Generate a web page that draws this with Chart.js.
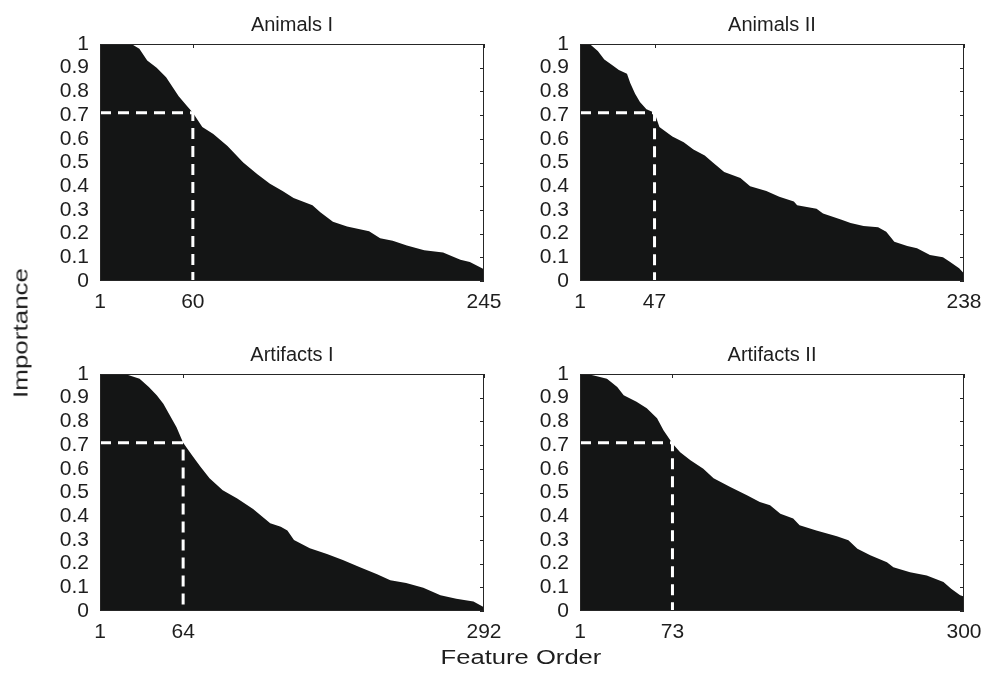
<!DOCTYPE html>
<html>
<head>
<meta charset="utf-8">
<script src="https://cdn.jsdelivr.net/npm/chart.js@4.4.1/dist/chart.umd.min.js"></script>
<style>
  body { margin: 0; background: #fff; width: 984px; height: 683px; position: relative; overflow: hidden;
         font-family: "Liberation Sans", Arial, sans-serif; color: #1e1e1e; }
  .panel { position: absolute; }
  #ylabel { position: absolute; left: 21px; top: 333px; transform: translate(-50%, -50%) rotate(-90deg) scaleX(1.3);
            font-size: 20px; white-space: nowrap; }
  #xlabel { position: absolute; left: 521px; top: 657px; transform: translate(-50%, -50%) scaleX(1.28);
            font-size: 20px; white-space: nowrap; }
</style>
</head>
<body>
<canvas class="panel" id="animals1" width="504" height="335" style="left:0;top:0"></canvas>
<canvas class="panel" id="animals2" width="504" height="335" style="left:480px;top:0"></canvas>
<canvas class="panel" id="artifacts1" width="504" height="335" style="left:0;top:330px"></canvas>
<canvas class="panel" id="artifacts2" width="504" height="335" style="left:480px;top:330px"></canvas>
<div id="ylabel">Importance</div>
<div id="xlabel">Feature Order</div>
<script>
// feature order (x) and importance (y)
var animals1Order = [1, 21, 26, 31, 37, 43, 51, 56, 60, 66, 73, 82, 92, 101, 109, 117, 124, 136, 141, 149, 158, 172, 179, 187, 196, 207, 219, 230, 236, 245];
var animals1Importance = [1, 1, 0.98, 0.93, 0.90, 0.86, 0.78, 0.74, 0.71, 0.65, 0.62, 0.57, 0.50, 0.45, 0.41, 0.38, 0.35, 0.32, 0.29, 0.25, 0.23, 0.21, 0.18, 0.17, 0.15, 0.13, 0.12, 0.09, 0.08, 0.05];

var animals2Order = [1, 7, 12, 16, 21, 25, 30, 32, 35, 38, 42, 47, 50, 58, 65, 71, 78, 83, 90, 100, 106, 116, 124, 133, 135, 147, 151, 162, 168, 176, 185, 190, 195, 203, 209, 217, 225, 229, 235, 238];
var animals2Importance = [1, 1, 0.97, 0.935, 0.91, 0.89, 0.875, 0.835, 0.79, 0.755, 0.725, 0.71, 0.65, 0.61, 0.585, 0.555, 0.53, 0.50, 0.46, 0.435, 0.40, 0.38, 0.355, 0.335, 0.32, 0.305, 0.285, 0.26, 0.245, 0.232, 0.227, 0.208, 0.166, 0.148, 0.138, 0.11, 0.10, 0.082, 0.054, 0.032];

var artifacts1Order = [1, 20, 31, 38, 44, 49, 54, 59, 64, 71, 77, 84, 94, 105, 117, 130, 138, 143, 148, 160, 173, 185, 198, 211, 221, 233, 246, 259, 271, 284, 292];
var artifacts1Importance = [1, 1, 0.98, 0.945, 0.91, 0.875, 0.825, 0.775, 0.71, 0.655, 0.61, 0.56, 0.51, 0.475, 0.43, 0.37, 0.355, 0.34, 0.30, 0.265, 0.24, 0.215, 0.185, 0.155, 0.13, 0.118, 0.098, 0.066, 0.052, 0.04, 0.016];

var artifacts2Order = [1, 5, 11, 22, 30, 35, 45, 53, 61, 66, 73, 79, 87, 97, 105, 118, 131, 141, 149, 157, 167, 172, 185, 201, 210, 217, 227, 240, 245, 258, 271, 284, 290, 297, 300];
var artifacts2Importance = [1, 1, 0.995, 0.98, 0.945, 0.91, 0.883, 0.855, 0.813, 0.763, 0.707, 0.67, 0.636, 0.60, 0.56, 0.523, 0.488, 0.46, 0.446, 0.41, 0.39, 0.362, 0.34, 0.315, 0.298, 0.263, 0.235, 0.206, 0.185, 0.164, 0.15, 0.122, 0.094, 0.066, 0.061];

var titles = ["Animals I", "Animals II", "Artifacts I", "Artifacts II"];
var cutoffs = [60, 47, 64, 73];
var totals = [245, 238, 292, 300];
var threshold = 0.71;

var TEXT = "#1e1e1e";
var FAMILY = "'Liberation Sans', Arial, sans-serif";
var TITLE_FONT = { family: FAMILY, size: 20, weight: "normal" };
var TICK_FONT = { family: FAMILY, size: 21, weight: "normal" };

// matlab style box: frame plus inward ticks on top and right
var boxPlugin = {
  id: "box",
  afterDatasetsDraw: function (chart) {
    var ctx = chart.ctx, a = chart.chartArea;
    ctx.save();
    ctx.strokeStyle = "#262626";
    ctx.lineWidth = 1;
    ctx.strokeRect(a.left + 0.5, a.top + 0.5, a.right - a.left - 1, a.bottom - a.top - 1);
    ctx.beginPath();
    chart.scales.y.ticks.forEach(function (t) {
      var y = Math.round(chart.scales.y.getPixelForValue(t.value)) + 0.5;
      ctx.moveTo(a.right - 4, y);
      ctx.lineTo(a.right, y);
    });
    chart.scales.x.ticks.forEach(function (t) {
      var x = Math.round(chart.scales.x.getPixelForValue(t.value)) + 0.5;
      ctx.moveTo(x, a.top);
      ctx.lineTo(x, a.top + 4);
    });
    ctx.stroke();
    ctx.restore();
  }
};

function makePanel(id, title, order, importance, cutoff, total) {
  var area = order.map(function (x, i) { return { x: x, y: importance[i] }; });
  var guide = [{ x: 1, y: threshold }, { x: cutoff, y: threshold }, { x: cutoff, y: 0 }];

  return new Chart(document.getElementById(id), {
    type: "line",
    data: {
      datasets: [
        { data: guide, borderColor: "#ffffff", borderWidth: 3, borderDash: [11, 7],
          fill: false, pointRadius: 0, order: 0 },
        { data: area, borderWidth: 0, borderColor: "rgba(0,0,0,0)", backgroundColor: "#141515",
          fill: "origin", pointRadius: 0, tension: 0, order: 1 }
      ]
    },
    options: {
      responsive: false,
      animation: false,
      events: [],
      layout: { padding: { left: 0, right: 20, top: 0, bottom: 0 } },
      plugins: {
        legend: { display: false },
        tooltip: { enabled: false },
        title: { display: true, text: title, fullSize: false, color: TEXT, font: TITLE_FONT,
                 padding: { top: 13, bottom: 7 } }
      },
      scales: {
        x: {
          type: "linear", min: 1, max: total,
          grid: { display: false, drawTicks: false },
          border: { display: false },
          afterBuildTicks: function (s) {
            s.ticks = [1, cutoff, total].map(function (v) { return { value: v }; });
          },
          afterFit: function (s) {
            s.height = 54;
            s.paddingLeft = 0;
            s.paddingRight = 0;
          },
          ticks: { color: TEXT, font: TICK_FONT, padding: 9, maxRotation: 0, autoSkip: false,
                   callback: function (v) { return String(v); } }
        },
        y: {
          min: 0, max: 1,
          grid: { display: false, drawTicks: false },
          border: { display: false },
          afterFit: function (s) {
            s.width = 100;
            s.paddingTop = 0;
            s.paddingBottom = 0;
          },
          ticks: { color: TEXT, font: TICK_FONT, padding: 11, stepSize: 0.1, autoSkip: false,
                   callback: function (v) { return String(Math.round(v * 10) / 10); } }
        }
      }
    },
    plugins: [boxPlugin]
  });
}

makePanel("animals1", titles[0], animals1Order, animals1Importance, cutoffs[0], totals[0]);
makePanel("animals2", titles[1], animals2Order, animals2Importance, cutoffs[1], totals[1]);
makePanel("artifacts1", titles[2], artifacts1Order, artifacts1Importance, cutoffs[2], totals[2]);
makePanel("artifacts2", titles[3], artifacts2Order, artifacts2Importance, cutoffs[3], totals[3]);
</script>
</body>
</html>
